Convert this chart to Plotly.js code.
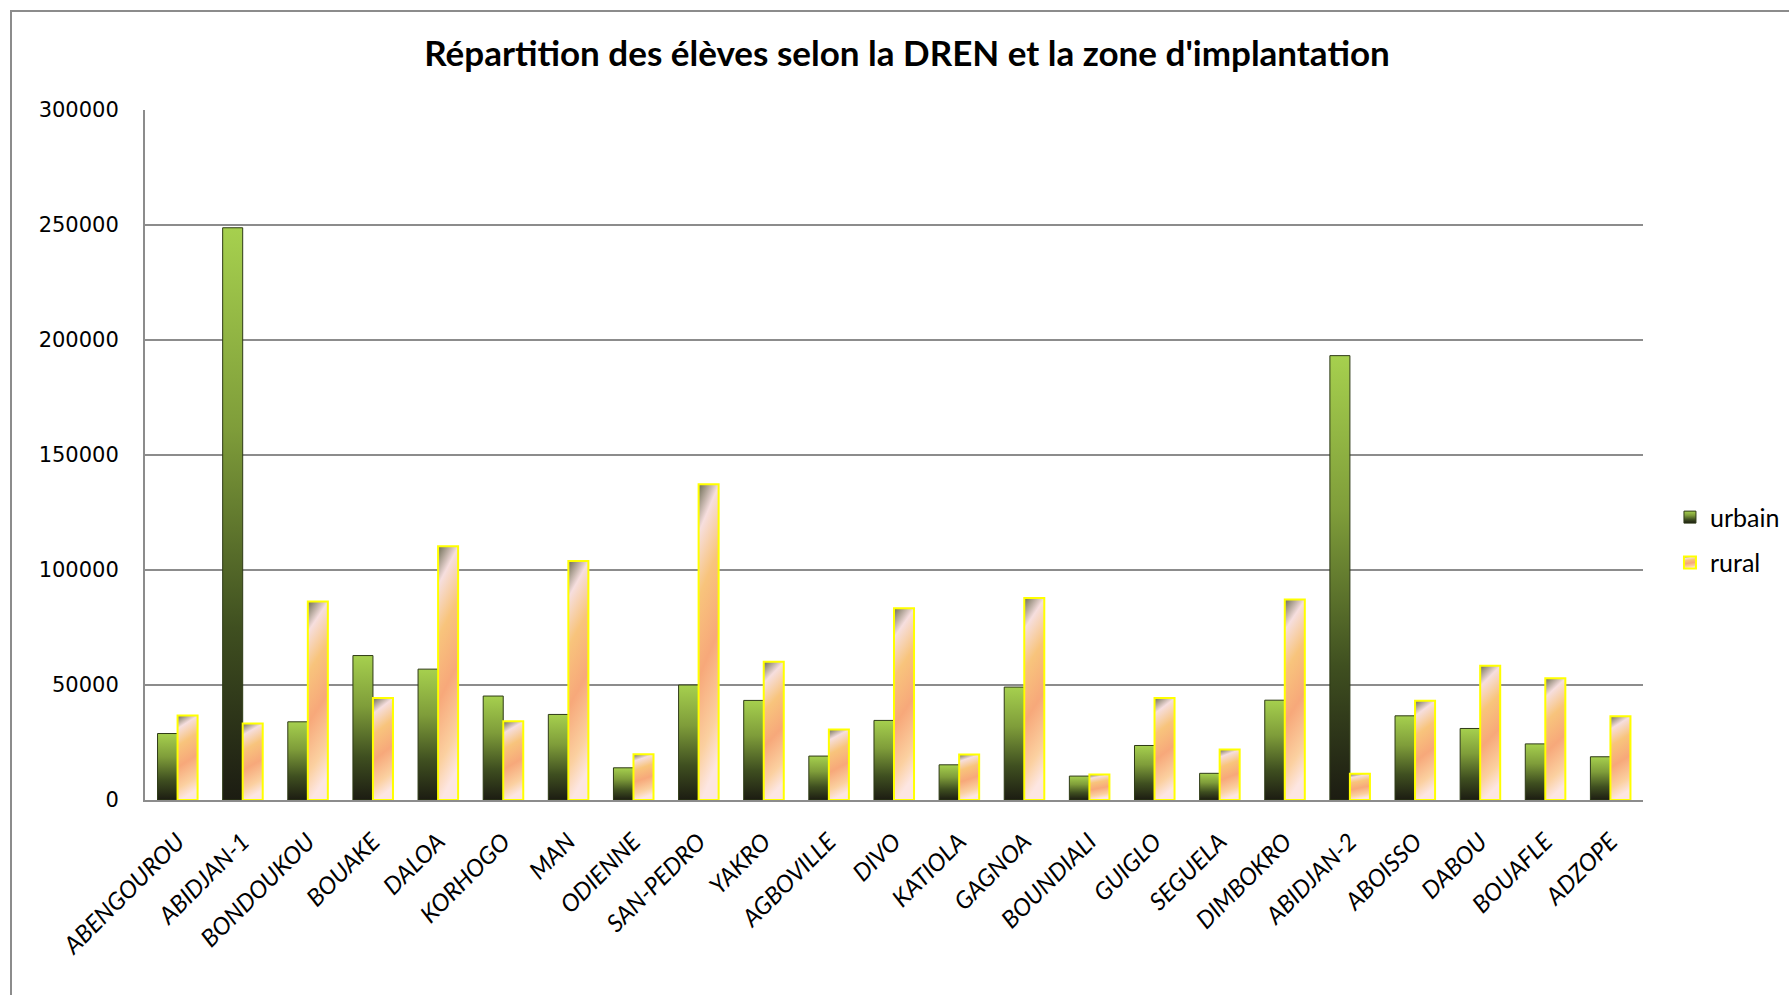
<!DOCTYPE html>
<html>
<head>
<meta charset="utf-8">
<script src="https://cdn.plot.ly/plotly-3.0.1.min.js"></script>
<style>
  html, body { margin: 0; padding: 0; background: #ffffff; }
  #chart { width: 1789px; height: 995px; position: absolute; left: 0; top: 0; }
  #frame { position: absolute; left: 10px; top: 10px; width: 1800px; height: 1000px;
           border-left: 2px solid #8c8c8c; border-top: 2px solid #8c8c8c; pointer-events: none; }
</style>
</head>
<body>
<div id="chart"></div>
<div id="frame"></div>
<script>
const categories = ["ABENGOUROU","ABIDJAN-1","BONDOUKOU","BOUAKE","DALOA","KORHOGO","MAN","ODIENNE",
  "SAN-PEDRO","YAKRO","AGBOVILLE","DIVO","KATIOLA","GAGNOA","BOUNDIALI","GUIGLO","SEGUELA",
  "DIMBOKRO","ABIDJAN-2","ABOISSO","DABOU","BOUAFLE","ADZOPE"];
const urbain = [28900, 248800, 34000, 62800, 56900, 45200, 37200, 14000,
  50000, 43300, 19100, 34600, 15300, 49100, 10400, 23700, 11600,
  43400, 193200, 36600, 31100, 24400, 18800];
const rural = [36700, 33300, 86300, 44300, 110300, 34200, 103900, 19900,
  137300, 60100, 30700, 83400, 19800, 87800, 11100, 44300, 22000,
  87200, 11400, 43200, 58400, 52900, 36400];
const seriesNames = ["urbain", "rural"];
const titleText = "Répartition des élèves selon la DREN et la zone d'implantation";

const traces = [
  { type: "bar", name: seriesNames[0], x: categories, y: urbain, legendgroup: "u",
    marker: { color: "#5d7a2c", line: { color: "#2e3a16", width: 1 } } },
  { type: "bar", name: seriesNames[1], x: categories, y: rural, legendgroup: "r",
    marker: { color: "#f9b47e", line: { color: "#ffff00", width: 2 } } }
];

const layout = {
  width: 1789, height: 995,
  paper_bgcolor: "#ffffff", plot_bgcolor: "#ffffff",
  margin: { l: 145, r: 146, t: 110, b: 195, autoexpand: false },
  title: { text: "<b>" + titleText + "</b>", x: 0.507, xanchor: "center", y: 0.946, yanchor: "middle",
           font: { family: "Lato, 'Open Sans', sans-serif", size: 35, color: "#000000" } },
  barmode: "group", bargap: 0.385, bargroupgap: 0,
  showlegend: true,
  legend: { x: 1.018, xanchor: "left", y: 0.377, yanchor: "middle", traceorder: "grouped",
            tracegroupgap: 10, itemwidth: 30,
            font: { family: "Lato, 'Open Sans', sans-serif", size: 25, color: "#000000" } },
  xaxis: { type: "category", tickangle: -45, showgrid: false, showline: true, linecolor: "#8c8c8c",
           linewidth: 2, ticks: "", zeroline: false, ticklabelstandoff: 16,
           tickfont: { family: "Lato, 'Open Sans', sans-serif", size: 24, color: "#000000", style: "italic" } },
  yaxis: { range: [0, 300000], dtick: 50000, tickformat: "d", showgrid: true, gridcolor: "#8c8c8c",
           gridwidth: 2, showline: true, linecolor: "#8c8c8c", linewidth: 2, zeroline: false,
           ticks: "", ticklabelstandoff: 20,
           tickfont: { family: "'DejaVu Sans', Verdana, sans-serif", size: 21, color: "#000000" } }
};

Plotly.newPlot("chart", traces, layout, { displayModeBar: false, staticPlot: true }).then(function (gd) {
  const svg = gd.querySelector("svg.main-svg");
  const ns = "http://www.w3.org/2000/svg";
  let defs = svg.querySelector("defs");
  if (!defs) { defs = document.createElementNS(ns, "defs"); svg.insertBefore(defs, svg.firstChild); }
  function grad(id, stops, x2, y2) {
    const g = document.createElementNS(ns, "linearGradient");
    g.setAttribute("id", id); g.setAttribute("x1", "0"); g.setAttribute("y1", "0");
    g.setAttribute("x2", x2); g.setAttribute("y2", y2);
    stops.forEach(function (s) {
      const st = document.createElementNS(ns, "stop");
      st.setAttribute("offset", s[0]); st.setAttribute("stop-color", s[1]);
      g.appendChild(st);
    });
    defs.appendChild(g);
  }
  grad("gradU", [["0", "#a6d04e"], ["0.35", "#7f9d3a"], ["0.7", "#3f4f20"], ["1", "#1c1c12"]], "0", "1");
  grad("gradR", [["0", "#6b6b52"], ["0.15", "#f6dede"], ["0.35", "#f8c47c"], ["0.6", "#f7a87a"],
                 ["0.85", "#fbd0a0"], ["1", "#fde6e2"]], "0.15", "1");
  const traceGroups = gd.querySelectorAll(".barlayer .trace");
  const ids = ["gradU", "gradR"];
  traceGroups.forEach(function (tg, i) {
    tg.querySelectorAll(".point path").forEach(function (p) {
      p.style.fill = "url(#" + ids[i] + ")";
    });
  });
  const legendItems = gd.querySelectorAll(".legend .traces");
  legendItems.forEach(function (it, i) {
    it.querySelectorAll(".legendpoints path").forEach(function (p) {
      p.style.fill = "url(#" + ids[i] + ")";
    });
  });
});
</script>
</body>
</html>
